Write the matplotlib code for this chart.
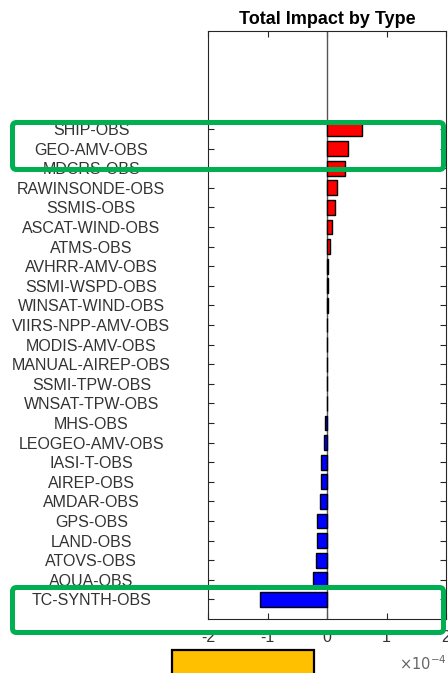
import numpy as np
import matplotlib.pyplot as plt
from matplotlib.patches import FancyBboxPatch, Rectangle

plt.rcParams['font.family'] = ['Liberation Sans', 'DejaVu Sans']

# observation types, top of the chart first
obs_types = ['SHIP-OBS', 'GEO-AMV-OBS', 'MDCRS-OBS', 'RAWINSONDE-OBS', 'SSMIS-OBS',
             'ASCAT-WIND-OBS', 'ATMS-OBS', 'AVHRR-AMV-OBS', 'SSMI-WSPD-OBS',
             'WINSAT-WIND-OBS', 'VIIRS-NPP-AMV-OBS', 'MODIS-AMV-OBS',
             'MANUAL-AIREP-OBS', 'SSMI-TPW-OBS', 'WNSAT-TPW-OBS', 'MHS-OBS',
             'LEOGEO-AMV-OBS', 'IASI-T-OBS', 'AIREP-OBS', 'AMDAR-OBS', 'GPS-OBS',
             'LAND-OBS', 'ATOVS-OBS', 'AQUA-OBS', 'TC-SYNTH-OBS']
# total impact, in units of 1e-4
impact = [0.58, 0.36, 0.30, 0.17, 0.13, 0.09, 0.05, 0.015, 0.012, 0.010,
          0.005, 0.003, 0.002, 0.001, -0.002, -0.035, -0.05, -0.10, -0.10,
          -0.12, -0.16, -0.16, -0.18, -0.24, -1.13]
x_ticks = [-2, -1, 0, 1, 2]

fig = plt.figure(figsize=(4.48, 6.73), dpi=100)
ax = fig.add_axes([208 / 448, 54 / 673, 238 / 448, 588 / 673])

ypos = np.arange(len(obs_types), 0, -1)
vals = np.array(impact)
colors = np.where(vals >= 0, '#ff0000', '#0000ff')
ax.barh(ypos, vals, height=0.75, color=colors, edgecolor='black', linewidth=1.0, zorder=3)
ax.axvline(0, color='#555555', lw=1.0, zorder=2)

ax.set_xlim(-2, 2)
ax.set_ylim(0, 30)
ax.set_xticks(x_ticks)
ax.set_xticklabels([str(t) for t in x_ticks])
ax.set_yticks(ypos)
ax.set_yticklabels(obs_types)
for lab in ax.get_yticklabels():
    lab.set_horizontalalignment('center')

ax.tick_params(axis='both', direction='in', length=4, width=0.8, color='#262626',
               labelcolor='#333333', labelsize=11.5, top=True, right=True)
ax.tick_params(axis='y', pad=84)
ax.tick_params(axis='x', pad=8)
for sp in ax.spines.values():
    sp.set_color('#262626')
    sp.set_linewidth(0.8)

ax.set_title('Total Impact by Type', fontsize=13, fontweight='bold', pad=5)

fig.text(447 / 448, 3 / 673, r'$\times10^{-4}$', ha='right', va='baseline',
         fontsize=10.5, color='#666666')

# yellow box below the axis (cut off by the image edge)
fig.add_artist(Rectangle((172 / 448, -0.01), 142 / 448, (673 - 650) / 673 + 0.01,
                         transform=fig.transFigure, facecolor='#ffc000',
                         edgecolor='black', linewidth=1.6))

# green highlight boxes
for y0, y1 in [(122.5, 169.5), (587.5, 632.5)]:
    box = FancyBboxPatch((0.125, (673 - y1) / 100), 4.31, (y1 - y0) / 100,
                         boxstyle='round,pad=0,rounding_size=0.04',
                         transform=fig.dpi_scale_trans, facecolor='none',
                         edgecolor='#00b050', linewidth=3.6, zorder=10)
    fig.add_artist(box)

fig.savefig('out.png', dpi=100)
